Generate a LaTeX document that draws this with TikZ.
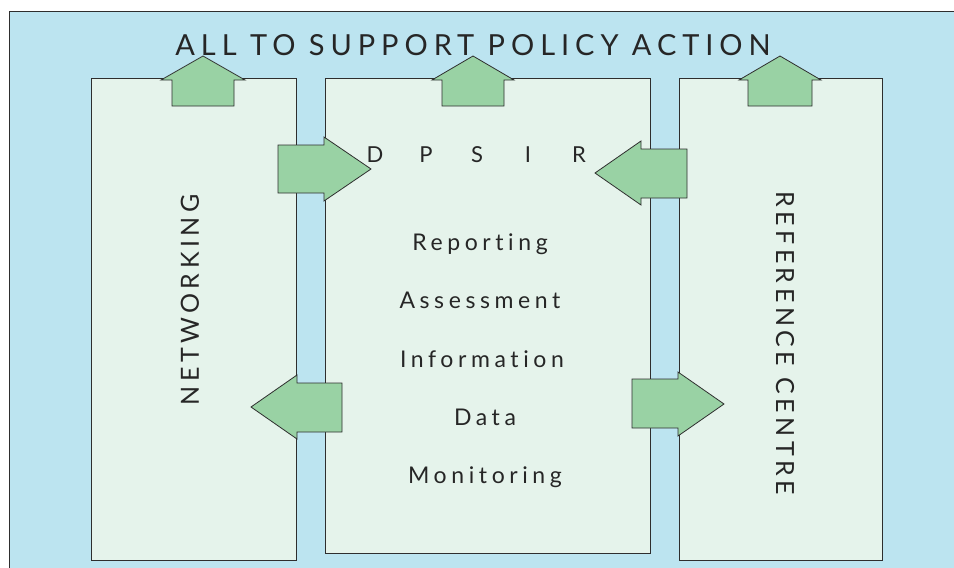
\documentclass[tikz,border=0pt]{standalone}
\usepackage{fontspec}
\setmainfont{Lato}
\newfontfamily\titlefont[LetterSpace=20.5,Ligatures={NoCommon,NoContextual}]{Lato}
\newfontfamily\wordfont[LetterSpace=20,Ligatures={NoCommon,NoContextual}]{Lato}
\newfontfamily\sidefont[LetterSpace=18,Ligatures={NoCommon,NoContextual}]{Lato}
\definecolor{bgblue}{HTML}{BCE4F0}
\definecolor{boxgreen}{HTML}{E5F3EB}
\definecolor{arrowgreen}{HTML}{99D2A4}
\definecolor{edgegray}{HTML}{2E2E2E}
\tikzset{
  panel/.style={draw=edgegray, line width=0.9pt, fill=boxgreen},
  fatarrow/.style={draw=edgegray, line width=0.8pt, fill=arrowgreen, line join=miter},
  label/.style={inner sep=0pt, text=black!85},
  word/.style={label, anchor=base, font=\wordfont\fontsize{23}{25}\selectfont},
}
\begin{document}
\begin{tikzpicture}[x=1pt,y=-1pt]
\useasboundingbox (0,0) rectangle (954,568);
% background
\fill[bgblue] (9,11) rectangle (960,575);
\draw[edgegray, line width=0.9pt] (9,575) -- (9,11) -- (960,11);
% panels
\draw[panel] (91,78) rectangle (296,560);
\draw[panel] (325,78) rectangle (650,553);
\draw[panel] (679,78) rectangle (882,560);
% title
\node[label, anchor=base, font=\titlefont\fontsize{29}{31}\selectfont] (title) at (473,55) {ALL TO SUPPORT POLICY ACTION};
% up arrows
\draw[fatarrow] (172,106) -- (172,80) -- (161,80) -- (203,56) -- (245,80) -- (234,80) -- (234,106) -- cycle;
\draw[fatarrow] (442,106) -- (442,80) -- (432,80) -- (473,56) -- (514,80) -- (504,80) -- (504,106) -- cycle;
\draw[fatarrow] (748,106) -- (748,80) -- (739,80) -- (780,56) -- (821,80) -- (812,80) -- (812,106) -- cycle;
% side arrows
\draw[fatarrow] (278,145) -- (324,145) -- (324,137) -- (371,169) -- (324,201) -- (324,193) -- (278,193) -- cycle;
\draw[fatarrow] (687,149) -- (641,149) -- (641,141) -- (595,173) -- (641,205) -- (641,198) -- (687,198) -- cycle;
\draw[fatarrow] (342,383) -- (297,383) -- (297,375) -- (251,407) -- (297,439) -- (297,432) -- (342,432) -- cycle;
\draw[fatarrow] (632,379) -- (678,379) -- (678,372) -- (724,404) -- (678,436) -- (678,428) -- (632,428) -- cycle;
% DPSIR
\node[label, font=\fontsize{22}{24}\selectfont] (dpsir) at (477,155)
  {\makebox[51pt]{D}\makebox[51pt]{P}\makebox[51pt]{S}\makebox[51pt]{I}\makebox[51pt]{R}};
% middle words
\node[word] (rep) at (480,250) {Reporting};
\node[word] (ass) at (480,308) {Assessment};
\node[word] (inf) at (482,367) {Information};
\node[word] (dat) at (485,425) {Data};
\node[word] (mon) at (485,483) {Monitoring};
% side labels
\node[label, rotate=90, font=\sidefont\fontsize{25}{27}\selectfont] (net) at (190,300) {NETWORKING};
\node[label, rotate=-90, font=\sidefont\fontsize{25}{27}\selectfont] (ref) at (785,343) {REFERENCE CENTRE};
\end{tikzpicture}
\end{document}
